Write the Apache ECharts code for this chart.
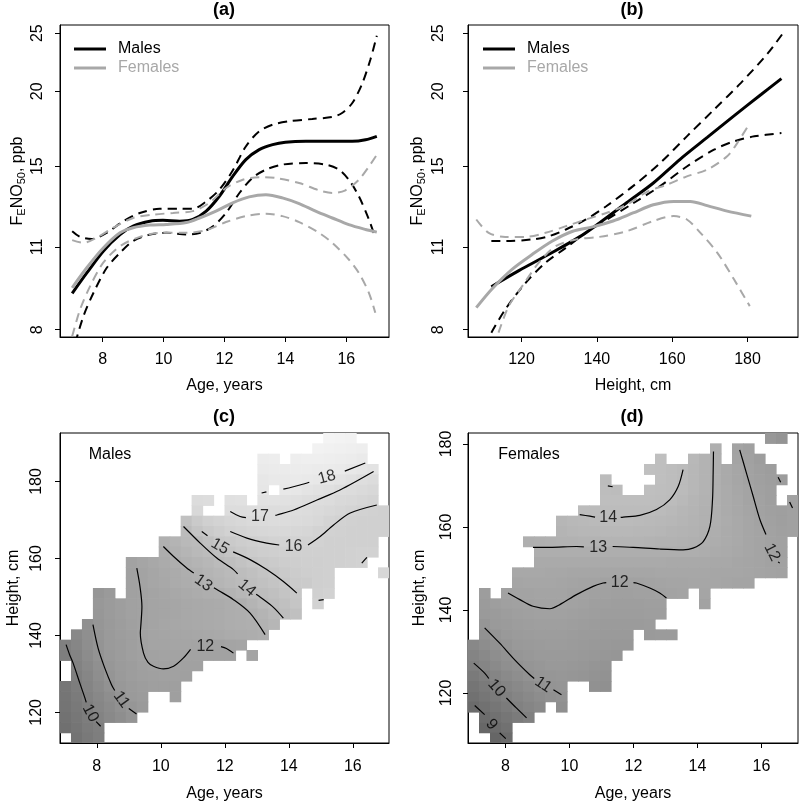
<!DOCTYPE html>
<html>
<head>
<meta charset="utf-8">
<script src="https://cdn.jsdelivr.net/npm/echarts@6/dist/echarts.min.js"></script>
<style>
  html, body { margin: 0; background: #fff; }
  #chart { width: 800px; height: 803px; }
</style>
</head>
<body>
<div id="chart"></div>
<script>
const FONT = 'Liberation Sans, Arial, sans-serif';

// (a) FeNO vs age: [age, ppb]
const maleFitA = [[7.0,9.2],[7.48,9.95],[8.02,10.82],[8.57,11.53],[9.0,11.91],[9.55,12.14],[9.98,12.18],[10.53,12.14],[10.96,12.22],[11.4,12.62],[11.83,13.36],[12.27,14.42],[12.7,15.38],[13.14,15.98],[13.58,16.29],[14.0,16.44],[14.67,16.5],[15.54,16.5],[16.19,16.5],[16.63,16.6],[17.0,16.82]];
const maleUpA = [[7.0,11.68],[7.26,11.43],[7.64,11.34],[8.13,11.61],[8.68,12.14],[9.22,12.53],[9.87,12.73],[10.53,12.74],[10.96,12.73],[11.4,13.1],[11.83,13.7],[12.27,14.75],[12.7,16.18],[13.14,17.15],[13.58,17.59],[14.12,17.82],[14.88,17.98],[15.54,18.12],[15.86,18.4],[16.19,19.1],[16.52,20.6],[16.79,22.6],[17.0,24.75]];
const maleLoA = [[7.1,7.6],[7.37,8.43],[7.7,9.22],[8.13,10.14],[8.57,10.75],[9.0,11.25],[9.55,11.53],[10.09,11.61],[10.75,11.53],[11.18,11.6],[11.62,11.9],[12.05,12.53],[12.49,13.53],[12.92,14.34],[13.36,14.8],[13.9,15.09],[14.67,15.18],[15.32,15.09],[15.76,14.8],[16.08,14.24],[16.41,13.36],[16.74,12.22],[16.95,11.39]];
const femFitA = [[7.0,9.4],[7.48,10.15],[8.02,10.95],[8.57,11.61],[9.0,11.84],[9.55,11.96],[10.09,11.99],[10.75,12.08],[11.18,12.29],[11.72,12.62],[12.27,13.03],[12.81,13.33],[13.36,13.44],[13.9,13.28],[14.45,12.99],[14.99,12.62],[15.54,12.29],[16.08,11.98],[16.63,11.76],[17.0,11.64]];
const femUpA = [[7.0,11.29],[7.37,11.17],[7.8,11.39],[8.35,11.84],[9.0,12.29],[9.66,12.45],[10.31,12.53],[10.96,12.62],[11.51,13.03],[12.05,13.79],[12.6,14.24],[13.14,14.38],[13.69,14.33],[14.45,14.06],[15.1,13.67],[15.54,13.53],[15.97,13.67],[16.41,14.24],[16.74,14.98],[17.0,15.67]];
const femLoA = [[7.0,7.8],[7.26,8.65],[7.59,9.46],[8.02,10.35],[8.57,11.03],[9.22,11.43],[9.87,11.61],[10.75,11.61],[11.4,11.73],[12.05,12.1],[12.7,12.38],[13.36,12.49],[13.9,12.38],[14.45,12.1],[15.1,11.61],[15.54,11.17],[16.08,10.48],[16.41,9.95],[16.74,9.22],[16.95,8.54]];

// (b) FeNO vs height: [cm, ppb]
const maleFitB = [[112,9.44],[119.3,10.04],[127.3,10.69],[135.4,11.43],[140.7,12.06],[147.9,13.03],[155,14.06],[162.1,15.4],[169.3,16.75],[176.4,18.2],[183.6,19.75],[189,21.0]];
const maleUpB = [[112,11.25],[116,11.25],[122.9,11.32],[127.3,11.46],[131.8,11.76],[137.1,12.22],[142.5,12.86],[149.6,13.89],[156.8,15.18],[163.9,16.82],[171.1,18.64],[178.2,20.64],[185.4,23.15],[190,25.3]];
const maleLoB = [[112,7.91],[115.7,8.65],[121.1,9.58],[126.4,10.35],[131.8,10.96],[137.1,11.61],[142.5,12.2],[149.6,13.0],[156.8,13.89],[163.9,14.98],[171.1,15.98],[176.4,16.5],[181.8,16.82],[189,17.03]];
const femFitB = [[108,8.71],[112.1,9.35],[117.5,10.09],[122.9,10.69],[128.2,11.25],[133.6,11.68],[138.9,11.88],[144.3,12.15],[149.6,12.53],[155,12.93],[160.4,13.1],[164.8,13.1],[169.3,12.89],[174.6,12.62],[181,12.38]];
const femUpB = [[108,12.22],[111.3,11.61],[115.7,11.43],[121.1,11.43],[126.4,11.61],[131.8,11.91],[137.1,12.22],[142.5,12.53],[147.9,12.93],[153.2,13.58],[158.6,13.97],[163.9,14.42],[169.3,14.8],[174.6,15.58],[177.3,16.4],[180.6,17.7]];
const femLoB = [[113.9,7.91],[116.6,8.76],[120.2,9.46],[124.6,10.35],[129.1,11.03],[134.5,11.32],[140.7,11.43],[147.9,11.68],[155,12.15],[160.4,12.38],[163.9,12.22],[167.5,11.61],[172,10.75],[176.4,9.71],[180.6,8.76]];

const ageTicks = [8, 10, 12, 14, 16];
const heightTicksB = [120, 140, 160, 180];
const heightTicks = [120, 140, 160, 180];
const fenoTicks = [8, 11, 15, 20, 25];

// heat-map grids (30 x 30 cells), rows listed top to bottom: [first column, values...]
const gridC = { age0: 6.85, ageStep: 0.3427, hTop: 192.6, hStep: 2.685 };
const gridD = { age0: 6.83, ageStep: 0.3437, hTop: 182.65, hStep: 2.49 };

const maleRows = [
  [24, 19.0, 18.95, 18.85],
  [23, 18.8, 18.75, 18.7, 18.6, 18.45],
  [18, 18.3, 18.4, null, 18.5, 18.55, 18.55, 18.5, 18.4, 18.3, 18.15],
  [18, 18.1, 18.2, 18.25, 18.3, 18.3, 18.25, 18.2, 18.1, 17.95, 17.75, 17.55],
  [18, 17.9, 18.0, 18.05, 18.1, 18.05, 17.95, 17.8, 17.6, 17.3, 17.05, 16.9],
  [18, 17.8, null, 17.95, 17.85, 17.6, 17.4, 17.2, 17.0, 16.85, 16.7, 16.55],
  [12, 16.9, 17.0, null, 17.2, 17.3, null, 17.4, 17.4, 17.3, 17.2, 17.1, 17.0, 16.85, 16.65, 16.5, 16.35, 16.2],
  [12, 16.5, null, null, 16.95, 17.0, 17.05, 17.05, 17.0, 17.0, 16.95, 16.85, 16.7, 16.55, 16.35, 16.15, 15.95, 15.9, 15.8],
  [11, 14.5, 15.3, 15.8, 16.1, 16.35, 16.55, 16.7, 16.8, 16.85, 16.85, 16.8, 16.7, 16.5, 16.2, 16.0, 15.9, 15.85, 15.85, 15.85],
  [11, 13.95, 14.7, 15.3, 15.6, 16.0, 16.2, 16.35, 16.45, 16.5, 16.5, 16.45, 16.35, 16.1, 15.97, 15.9, 15.85, 15.85, 15.85, 15.8],
  [9, 13.1, 13.4, 13.75, 13.95, 14.5, 15.1, 15.25, 15.5, 15.7, 15.9, 16.05, 16.05, 16.05, 16.03, 15.95, 15.85, 15.8, 15.8, 15.8, 15.85],
  [9, 12.85, 13.15, 13.45, 13.75, 14.0, 14.4, 14.85, 15.2, 15.45, 15.6, 15.7, 15.8, 15.85, 15.85, 15.85, 15.85, 15.85, 15.9, 15.95, 16.0],
  [6, 11.95, 12.2, 12.45, 12.7, 12.9, 13.15, 13.4, 13.65, 13.95, 14.25, 14.55, 14.9, 15.15, 15.35, 15.5, 15.6, 15.7, 15.75, 15.8, 15.85, 15.9, 16.0],
  [6, 11.9, 12.05, 12.3, 12.5, 12.7, 12.9, 13.1, 13.35, 13.6, 13.85, 14.1, 14.35, 14.7, 15.05, 15.3, 15.45, 15.6, 15.7, 15.8, null, null, null, null, 16.4],
  [6, 11.9, 12.05, 12.25, 12.45, 12.65, 12.8, 12.95, 13.2, 13.45, 13.7, 13.95, 14.25, 14.5, 14.75, 15.0, 15.25, 15.4, 15.7, 15.8],
  [3, 11.1, 11.35, null, 11.85, 12.0, 12.15, 12.3, 12.45, 12.6, 12.75, 12.9, 13.0, 13.3, 13.6, 13.9, 14.1, 14.4, 14.7, 15.0, null, 15.85, 15.95],
  [3, 11.2, 11.45, 11.65, 11.85, 12.0, 12.1, 12.2, 12.3, 12.4, 12.5, 12.6, 12.7, 12.85, 13.0, 13.4, 13.8, 14.1, 14.4, 14.8, null, 16.0],
  [3, 11.15, 11.4, 11.65, 11.85, 12.0, 12.1, 12.2, 12.3, 12.4, 12.5, 12.6, 12.7, 12.8, 12.9, 13.05, 13.4, 13.75, 14.1, 14.4],
  [2, 10.85, 11.1, 11.35, 11.6, 11.8, 12.0, 12.15, 12.25, 12.35, 12.4, 12.5, 12.6, 12.7, 12.8, 12.9, 12.95, 13.2, 13.55],
  [1, 10.4, 10.75, 11.05, 11.3, 11.55, 11.75, 11.95, 12.1, 12.2, 12.3, 12.3, 12.35, 12.45, 12.55, 12.65, 12.75, 12.85, 12.95],
  [0, 10.0, 10.3, 10.7, 11.0, 11.3, 11.5, 11.7, 11.95, 12.1, 12.15, 12.2, 12.2, 12.1, 12.0, 12.0, 12.1, 12.2],
  [0, 9.9, 10.2, 10.6, 10.95, 11.25, 11.5, 11.7, 11.85, 12.0, 12.05, 12.05, 11.98, 11.95, 11.95, 11.97, 12.0, null, 12.1],
  [1, 10.1, 10.45, 10.8, 11.15, 11.4, 11.6, 11.8, 11.95, 12.0, 11.98, 11.9, 11.85],
  [1, 9.95, 10.3, 10.7, 11.05, 11.3, 11.55, 11.7, 11.8, 11.85, 11.85, 11.8],
  [0, 9.5, 9.85, 10.2, 10.55, 10.9, 11.2, 11.45, 11.6, 11.7, 11.75, 11.75],
  [0, 9.45, 9.75, 10.1, 10.4, 10.7, 11.0, 11.3, 11.5, null, null, 11.7],
  [0, 9.4, 9.65, 9.95, 10.3, 10.55, 10.85, 11.1, 11.35],
  [0, 9.3, 9.55, 9.85, 10.15, 10.45, 10.7, 11.0],
  [0, 9.2, 9.45, 9.75, 9.95],
  [1, 9.35, 9.65, 9.9]
];

const femaleRows = [
  [27, 11.2, 11.0],
  [22, 12.95, null, 12.05, 11.8],
  [17, 14.3, null, null, 13.7, 13.3, 12.95, null, 12.15, 11.85, 11.6],
  [16, 14.4, 14.3, 14.15, 13.98, 13.65, 13.3, 12.95, 12.6, 12.25, 11.95, 11.75, 11.6],
  [12, 14.0, null, null, null, null, 14.3, 14.15, 13.95, 13.65, 13.3, 12.95, 12.6, 12.3, 12.0, 11.8, 11.65, 11.5],
  [12, 14.1, 14.05, null, null, 14.3, 14.25, 14.1, 13.9, 13.6, 13.3, 12.95, 12.65, 12.35, 12.1, 11.9, 11.7],
  [12, 14.2, 14.2, 14.2, 14.2, 14.2, 14.1, 14.0, 13.75, 13.45, 13.2, 12.95, 12.7, 12.4, 12.15, 11.95, 11.75, null, 11.95],
  [10, 14.0, 14.02, 14.05, 14.05, 14.05, 14.05, 14.02, 13.95, 13.8, 13.55, 13.35, 13.15, 12.95, 12.7, 12.45, 12.2, 12.0, 11.8, 11.75, 11.9],
  [8, 13.55, 13.7, 13.8, 13.85, 13.9, 13.9, 13.9, 13.85, 13.8, 13.7, 13.6, 13.45, 13.3, 13.15, 12.95, 12.75, 12.5, 12.25, 12.05, 11.85, 11.75, 11.85],
  [8, 13.4, 13.5, 13.6, 13.65, 13.7, 13.7, 13.7, 13.65, 13.6, 13.5, 13.4, 13.3, 13.2, 13.05, 12.9, 12.7, 12.5, 12.3, 12.1, 11.95, 11.8, 11.85],
  [5, 13.0, 13.1, 13.15, 13.2, 13.25, 13.3, 13.3, 13.35, 13.35, 13.35, 13.35, 13.3, 13.25, 13.2, 13.15, 13.1, 13.0, 12.85, 12.7, 12.5, 12.3, 12.15, 12.0, 11.85],
  [6, 12.9, 12.9, 12.92, 12.93, 12.93, 12.93, 12.93, 12.93, 12.93, 12.92, 12.9, 12.9, 12.88, 12.88, 12.87, 12.8, 12.7, 12.6, 12.45, 12.3, 12.15, 12.0, 11.9],
  [6, 12.6, 12.6, 12.6, 12.6, 12.6, 12.62, 12.62, 12.62, 12.6, 12.6, 12.58, 12.56, 12.55, 12.55, 12.55, 12.5, 12.45, 12.4, 12.3, 12.2, 12.1, 12.0, 11.95],
  [4, 12.45, 12.45, 12.4, 12.35, 12.35, 12.3, 12.3, 12.3, 12.28, 12.27, 12.27, 12.27, 12.3, 12.32, 12.35, 12.35, 12.35, 12.35, 12.3, 12.3, 12.25, 12.2, 12.1, 12.05, 12.0],
  [4, 12.2, 12.25, 12.25, 12.25, 12.2, 12.15, 12.05, 12.02, 12.0, 12.0, 12.0, 12.0, 12.05, 12.12, 12.18, 12.22, 12.25, 12.25, 12.25, 12.2, 12.15, 12.1],
  [1, 11.6, null, 12.0, 12.05, 12.07, 12.1, 12.1, 12.08, 12.0, 11.95, 11.9, 11.85, 11.83, 11.83, 11.85, 11.9, 11.97, 12.05, 12.1, null, 12.2],
  [1, 11.45, 11.65, 11.8, 11.9, 11.97, 12.02, 12.05, 12.03, 11.95, 11.85, 11.75, 11.7, 11.67, 11.65, 11.67, 11.7, 11.75, null, null, null, 12.0],
  [1, 11.3, 11.45, 11.6, 11.7, 11.8, 11.85, 11.9, 11.88, 11.8, 11.7, 11.62, 11.58, 11.55, 11.55, 11.58, 11.62, 11.68],
  [1, 11.1, 11.3, 11.45, 11.55, 11.65, 11.7, 11.75, 11.72, 11.65, 11.58, 11.5, 11.45, 11.43, 11.43, 11.45, 11.5],
  [1, 10.85, 11.05, 11.25, 11.4, 11.5, 11.55, 11.6, 11.58, 11.52, 11.45, 11.38, 11.33, 11.3, 11.3, null, 11.35, 11.4, 11.45],
  [0, 10.4, 10.65, 10.85, 11.05, 11.22, 11.35, 11.42, 11.47, 11.47, 11.42, 11.35, 11.28, 11.22, 11.2, 11.2],
  [0, 10.2, 10.45, 10.7, 10.9, 11.07, 11.2, 11.3, 11.35, 11.35, 11.3, 11.25, 11.18, 11.12, 11.1],
  [0, 9.98, 10.25, 10.5, 10.72, 10.9, 11.05, 11.15, 11.22, 11.22, 11.18, 11.12, 11.05, 11.0],
  [0, 9.7, 9.95, 10.25, 10.5, 10.7, 10.9, 11.02, 11.1, 11.12, 11.08, 11.02, 10.95, 10.9],
  [0, 9.45, 9.7, 9.95, 10.25, 10.45, 10.65, 10.85, 10.97, 11.02, null, null, 10.85, 10.8],
  [0, 9.25, 9.5, 9.75, 10.0, 10.25, 10.45, 10.62, 10.78, 10.9],
  [0, 8.97, 9.25, 9.5, 9.75, 10.02, 10.25, 10.45, null, 10.75],
  [1, 9.0, 9.25, 9.5, 9.75, 10.0],
  [1, 8.75, 8.98, 9.25],
  [2, 8.7, 8.95]
];

// contour lines [age, height], split where the labels sit
const contoursC = [
  [[7.04,137.6],[7.15,135.0],[7.26,132.8],[7.47,127.6],[7.63,123.7],[7.67,122.6]],
  [[7.98,117.6],[8.12,116.4]],
  [[7.88,142.8],[8.04,136.7],[8.25,131.5],[8.46,127.2],[8.56,125.7]],
  [[9.0,121.0],[9.24,119.6]],
  [[9.25,157.5],[9.35,152.7],[9.41,147.5],[9.38,143.0],[9.36,140.6],[9.46,135.4],[9.6,133.0],[9.77,132.0],[10.08,131.3],[10.4,132.0],[10.7,134.1],[10.93,136.4]],
  [[11.88,137.1],[12.05,136.6],[12.27,135.4]],
  [[10.08,163.1],[10.4,160.5],[10.81,157.5],[11.03,156.2]],
  [[11.66,152.4],[11.8,151.7],[12.27,149.3],[12.79,145.8],[13.26,140.2]],
  [[10.71,168.3],[11.23,164.0],[11.75,160.1],[12.27,157.1],[12.4,156.0]],
  [[12.98,150.7],[13.1,150.0],[13.52,147.3],[13.83,144.5]],
  [[11.28,167.0],[11.46,165.9]],
  [[12.26,161.7],[12.79,159.7],[13.31,157.1],[13.83,154.0],[14.25,151.0]],
  [[12.17,167.0],[12.69,165.3],[13.31,164.0],[13.7,163.5]],
  [[14.6,163.5],[14.98,165.7],[15.4,168.7],[15.92,171.8],[16.75,173.9]],
  [[14.93,149.1],[15.09,149.3]],
  [[16.28,158.8],[16.44,160.3]],
  [[12.17,172.2],[12.48,170.9],[12.66,170.6]],
  [[13.58,171.2],[13.63,171.3],[14.15,172.6],[14.88,175.2],[15.6,177.8],[16.65,182.6]],
  [[13.83,178.0],[14.35,179.1],[14.64,179.8]],
  [[15.75,182.7],[16.39,184.8]],
  [[13.15,177.0],[13.3,177.3]]
];
const labelsC = [
  [7.8, 119.8, '10', -62], [8.77, 123.3, '11', -54], [11.39, 137.0, '12', 0],
  [11.33, 153.6, '13', -35], [12.69, 152.3, '14', -40], [11.85, 163.1, '15', -30],
  [14.15, 163.1, '16', 0], [13.1, 170.9, '17', 0], [15.19, 181.1, '18', 15]
];

const contoursD = [
  [[7.04,117.0],[7.35,114.8]],
  [[7.82,110.4],[8.01,109.0]],
  [[7.01,127.2],[7.35,124.8],[7.48,123.5]],
  [[8.03,118.8],[8.34,116.4],[8.66,114.0]],
  [[7.35,135.7],[7.82,132.0],[8.29,128.0],[8.76,124.4],[8.9,123.5]],
  [[9.5,120.8],[9.75,119.6]],
  [[8.08,144.1],[8.45,142.5],[8.86,140.9],[9.39,140.3],[9.7,141.3],[10.22,143.7],[10.74,145.7],[11.05,146.5],[11.15,146.6]],
  [[12.0,146.6],[12.09,146.5],[12.51,145.3],[12.82,144.1],[13.03,142.9]],
  [[15.32,178.6],[15.53,173.0],[15.74,167.4],[15.95,161.8],[16.14,158.2]],
  [[16.52,151.6],[16.57,151.3]],
  [[16.52,172.0],[16.6,170.8]],
  [[16.88,166.0],[16.97,164.6]],
  [[8.86,155.1],[9.39,155.1],[10.22,155.3],[10.45,155.2]],
  [[11.35,155.3],[11.99,155.1],[12.82,154.7],[13.55,154.5],[13.86,154.9],[14.18,156.5],[14.39,160.2],[14.47,166.6],[14.49,173.0],[14.5,178.2]],
  [[10.32,163.0],[10.64,162.6],[10.8,162.4]],
  [[11.6,162.3],[11.68,162.4],[12.2,162.8],[12.72,164.2],[13.14,166.6],[13.4,169.8],[13.55,173.8]],
  [[11.2,169.9],[11.35,169.7]]
];
const labelsD = [
  [7.56, 112.4, '9', -50], [7.72, 121.2, '10', -49], [9.18, 122.0, '11', -34],
  [11.57, 146.5, '12', 0], [16.33, 153.9, '12', -63], [10.9, 155.1, '13', 0], [11.21, 162.2, '14', 0]
];

function cellData(rows, g) {
  const out = [];
  rows.forEach(function (row, t) {
    for (let i = 1; i < row.length; i++) {
      if (row[i] == null) continue;
      const c = row[0] + i - 1;
      out.push([g.age0 + (c + 0.5) * g.ageStep, g.hTop - (t + 0.5) * g.hStep, row[i]]);
    }
  });
  return out;
}

function cellSeries(rows, g, gi) {
  return {
    type: 'custom', xAxisIndex: gi, yAxisIndex: gi, clip: true, silent: true, z: 1,
    data: cellData(rows, g),
    encode: { x: 0, y: 1 },
    renderItem: function (params, api) {
      const p = api.coord([api.value(0) - g.ageStep / 2, api.value(1) + g.hStep / 2]);
      const s = api.size([g.ageStep, g.hStep]);
      return { type: 'rect', shape: { x: p[0], y: p[1], width: s[0] + 0.6, height: s[1] + 0.6 },
               style: { fill: api.visual('color') } };
    }
  };
}

function lineSeries(name, data, gi, color, width, dashed) {
  return {
    name: name, type: 'line', xAxisIndex: gi, yAxisIndex: gi, data: data,
    smooth: 0.3, symbol: 'none', silent: true, clip: true, z: 3,
    itemStyle: { color: color },
    lineStyle: { color: color, width: width, type: dashed ? [9, 6] : 'solid' }
  };
}

function contourSeries(segs, gi) {
  return segs.map(function (s) {
    return { type: 'line', xAxisIndex: gi, yAxisIndex: gi, data: s, smooth: 0.3,
             symbol: 'none', silent: true, clip: true, z: 3,
             lineStyle: { color: '#000', width: 1.2 } };
  });
}

function labelSeries(list, gi) {
  return {
    type: 'scatter', xAxisIndex: gi, yAxisIndex: gi, symbolSize: 1, silent: true, z: 4,
    itemStyle: { color: 'rgba(0,0,0,0)' },
    data: list.map(function (l) { return { value: [l[0], l[1]], name: l[2], label: { rotate: l[3] } }; }),
    label: { show: true, position: 'inside', formatter: '{b}', color: '#000', fontSize: 16, fontFamily: FONT }
  };
}

const BLACK = '#000';
const GRAY = '#a8a8a8';

function xAxis(gi, min, max, ticks, name, margin, gap) {
  return {
    type: 'value', gridIndex: gi, min: min, max: max,
    axisLine: { show: true, onZero: false, lineStyle: { color: '#000', width: 1 } },
    axisTick: { show: true, inside: false, length: 5, customValues: ticks, lineStyle: { color: '#000' } },
    axisLabel: { customValues: ticks, color: '#000', fontSize: 16, fontFamily: FONT, margin: margin },
    splitLine: { show: false },
    name: name, nameLocation: 'middle', nameGap: gap,
    nameTextStyle: { color: '#000', fontSize: 16, fontFamily: FONT }
  };
}

const fenoName = '{n|F}{s|E}{n|NO}{s|50}{n|, ppb}';
const fenoRich = {
  n: { fontSize: 16, fontFamily: FONT, color: '#000', lineHeight: 18 },
  s: { fontSize: 11, fontFamily: FONT, color: '#000', lineHeight: 10, verticalAlign: 'bottom' }
};

function yAxis(gi, type, min, max, ticks, name, margin, gap, rich) {
  return {
    type: type, gridIndex: gi, min: min, max: max,
    axisLine: { show: true, onZero: false, lineStyle: { color: '#000', width: 1 } },
    axisTick: { show: true, inside: false, length: 5, customValues: ticks, lineStyle: { color: '#000' } },
    axisLabel: { customValues: ticks, color: '#000', fontSize: 16, fontFamily: FONT, rotate: 90, margin: margin },
    splitLine: { show: false },
    name: name, nameLocation: 'middle', nameGap: gap, nameRotate: 90,
    nameTextStyle: { color: '#000', fontSize: 16, fontFamily: FONT, rich: rich }
  };
}

function legend(left) {
  return {
    orient: 'vertical', left: left, top: 36, itemWidth: 32, itemHeight: 3, itemGap: 3,
    icon: 'rect', selectedMode: false,
    textStyle: { fontSize: 16, fontFamily: FONT, padding: [0, 0, 0, 7] },
    data: [
      { name: 'Males', textStyle: { color: BLACK } },
      { name: 'Females', textStyle: { color: GRAY } }
    ]
  };
}

function caption(x, y, text, bold) {
  return { type: 'text', x: x, y: y, silent: true,
           style: { text: text, fill: '#000', font: (bold ? 'bold 18px ' : '16px ') + FONT,
                    align: 'center', verticalAlign: 'middle', textAlign: 'center', textVerticalAlign: 'middle' } };
}

const gridBox = { show: true, borderColor: '#000', borderWidth: 1, backgroundColor: 'transparent', outerBoundsMode: 'none', containLabel: false };

const option = {
  animation: false,
  backgroundColor: '#fff',
  grid: [
    Object.assign({ left: 60, top: 25, width: 329, height: 312 }, gridBox),
    Object.assign({ left: 468, top: 25, width: 330, height: 312 }, gridBox),
    Object.assign({ left: 60, top: 433, width: 329, height: 310 }, gridBox),
    Object.assign({ left: 468, top: 433, width: 330, height: 310 }, gridBox)
  ],
  xAxis: [
    xAxis(0, 6.6, 17.4, ageTicks, 'Age, years', 15, 41),
    xAxis(1, 105.8, 193.4, heightTicksB, 'Height, cm', 15, 41),
    xAxis(2, gridC.age0, gridC.age0 + 30 * gridC.ageStep, ageTicks, 'Age, years', 16, 43),
    xAxis(3, gridD.age0, gridD.age0 + 30 * gridD.ageStep, ageTicks, 'Age, years', 16, 43)
  ],
  yAxis: [
    yAxis(0, 'log', 7.78, 25.8, fenoTicks, fenoName, 14, 33, fenoRich),
    yAxis(1, 'log', 7.78, 25.8, fenoTicks, fenoName, 21, 41, fenoRich),
    yAxis(2, 'value', gridC.hTop - 30 * gridC.hStep, gridC.hTop, heightTicks, 'Height, cm', 15, 38),
    yAxis(3, 'value', gridD.hTop - 30 * gridD.hStep, gridD.hTop, heightTicks, 'Height, cm', 13, 40)
  ],
  legend: [legend(69), legend(478)],
  visualMap: {
    type: 'continuous', show: false, seriesIndex: [0, 1], dimension: 2,
    min: 8.5, max: 19.2,
    inRange: { color: ['#626262', '#989898', '#bababa', '#d8d8d8', '#f6f6f6'] }
  },
  graphic: [
    caption(224, 10, '(a)', true), caption(632, 10, '(b)', true),
    caption(224, 417, '(c)', true), caption(632, 417, '(d)', true),
    caption(110, 455, 'Males', false), caption(529, 455, 'Females', false)
  ],
  series: [
    cellSeries(maleRows, gridC, 2),
    cellSeries(femaleRows, gridD, 3),
    lineSeries('Males', maleFitA, 0, BLACK, 3, false),
    lineSeries('Males CI', maleUpA, 0, BLACK, 2, true),
    lineSeries('Males CI', maleLoA, 0, BLACK, 2, true),
    lineSeries('Females', femFitA, 0, GRAY, 3, false),
    lineSeries('Females CI', femUpA, 0, GRAY, 2, true),
    lineSeries('Females CI', femLoA, 0, GRAY, 2, true),
    lineSeries('Males', maleFitB, 1, BLACK, 3, false),
    lineSeries('Males CI', maleUpB, 1, BLACK, 2, true),
    lineSeries('Males CI', maleLoB, 1, BLACK, 2, true),
    lineSeries('Females', femFitB, 1, GRAY, 3, false),
    lineSeries('Females CI', femUpB, 1, GRAY, 2, true),
    lineSeries('Females CI', femLoB, 1, GRAY, 2, true)
  ].concat(contourSeries(contoursC, 2), contourSeries(contoursD, 3),
           [labelSeries(labelsC, 2), labelSeries(labelsD, 3)])
};

const chart = echarts.init(document.getElementById('chart'), null, { renderer: 'canvas' });
chart.setOption(option);
</script>
</body>
</html>
